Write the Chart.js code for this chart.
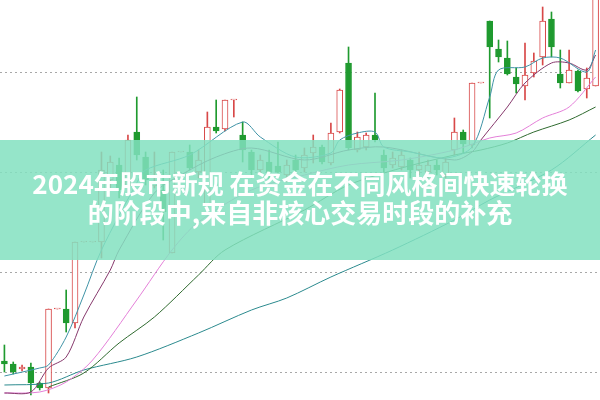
<!DOCTYPE html>
<html>
<head>
<meta charset="utf-8">
<script src="https://cdn.jsdelivr.net/npm/chart.js@4.4.1/dist/chart.umd.min.js"></script>
<style>
  body { margin: 0; background: #fff; }
  #wrap { position: relative; width: 600px; height: 400px; overflow: hidden; }
  #band { position: absolute; left: 0; top: 140px; width: 600px; height: 120px; background: rgba(130, 224, 191, 0.85); }
  #cap { position: absolute; left: 0; top: 168px; width: 600px; text-align: center; color: #fff;
         font: bold 26px/29px "Noto Sans CJK SC", sans-serif; }
</style>
</head>
<body>
<div id="wrap">
  <canvas id="c" width="600" height="400"></canvas>
  <div id="band"></div>
  <div id="cap">2024年股市新规 在资金在不同风格间快速轮换<br>的阶段中,来自非核心交易时段的补充</div>
</div>
<script>
// daily K-line, prices
var open = [10.22,10.16,10.06,10.10,9.78,9.68,11.26,11.26,10.98,12.60,
  12.60,12.60,13.84,14.14,13.72,14.80,14.30,13.72,13.64,12.38,
  14.40,14.40,14.00,13.34,14.90,14.86,15.44,14.74,14.40,14.04,
  14.20,14.12,13.94,14.24,14.08,14.38,14.50,14.18,14.80,16.18,
  14.44,14.50,14.74,14.34,14.14,14.10,14.24,14.04,14.00,14.14,
  13.94,14.44,14.80,14.54,15.78,17.02,16.46,16.28,15.90,15.72,
  15.98,16.30,17.06,15.96,15.78,16.02,15.66,15.72];
var high = [10.54,10.20,10.14,10.18,9.80,11.26,11.26,11.64,12.60,12.60,
  12.60,14.40,14.32,14.28,14.74,15.50,14.40,14.40,14.04,14.40,
  14.40,14.54,14.44,15.20,15.44,15.44,15.44,15.00,14.44,14.34,
  14.44,14.60,14.24,14.34,14.48,14.74,14.54,14.98,15.66,16.50,
  14.80,14.78,15.58,14.44,14.40,14.44,14.28,14.40,14.24,14.24,
  14.28,15.08,14.84,15.78,15.78,17.02,16.64,16.62,16.08,16.58,
  16.38,17.30,17.20,16.44,16.44,16.04,16.08,17.94];
var low = [10.00,9.96,10.02,9.54,9.64,9.58,11.26,10.80,10.88,12.60,
  12.60,12.28,13.64,13.48,13.60,14.24,13.74,13.68,12.64,12.38,
  14.40,14.04,13.88,13.28,14.78,14.82,15.10,14.20,13.88,13.94,
  13.84,13.88,13.80,13.94,14.00,14.18,14.16,14.14,14.78,14.44,
  14.40,14.44,14.60,14.00,14.08,14.04,13.88,13.94,13.88,13.94,
  13.88,14.34,14.38,14.48,15.78,15.08,16.20,15.94,15.58,15.44,
  15.90,16.14,16.30,15.68,15.78,15.60,15.48,15.72];
var close = [10.16,10.00,10.10,9.78,9.68,11.26,11.26,10.98,12.60,12.60,
  12.60,14.04,14.20,13.64,14.64,14.34,13.84,13.82,13.20,14.40,
  14.40,14.08,14.24,14.90,14.82,15.44,15.44,14.44,14.04,14.24,
  14.00,14.00,14.14,14.04,14.34,14.50,14.20,14.78,15.64,14.48,
  14.70,14.74,14.64,14.08,14.28,14.34,14.04,14.14,14.14,14.04,
  14.20,14.80,14.56,15.78,15.78,16.50,16.30,15.96,15.76,15.94,
  16.22,17.02,16.50,15.78,16.04,15.62,15.88,17.74];

// moving averages, [day index, value] where the line could be read
var ma5 = [[0,9.92],[4,10.08],[5,10.14],[7,10.70],[9,11.54],[11,12.44],[15,13.78],[16,14.04],
  [21,14.34],[27,15.00],[29,14.70],[33,14.30],[37,14.38],[38,14.64],[40,14.78],[42,14.80],
  [43,14.50],[46,14.40],[50,14.28],[53,14.50],[55,15.50],[56,16.04],[59,16.10],[61,16.28],
  [63,16.28],[66,16.00],[67,16.44]];
var ma10 = [[0,9.58],[3,9.60],[5,10.08],[7,10.30],[9,11.10],[12,12.04],[13,12.44],[17,13.58],
  [20,13.94],[24,14.30],[28,14.48],[34,14.24],[39,14.44],[43,14.50],[51,14.24],[53,14.40],
  [54,14.64],[57,15.30],[59,15.78],[62,16.18],[64,16.18],[66,16.04],[67,16.34]];
var ma20 = [[0,9.58],[4,9.60],[7,9.80],[10,10.24],[15,11.44],[19,12.44],[22,13.00],[28,13.64],
  [34,13.94],[39,14.14],[45,14.24],[51,14.44],[55,14.68],[58,14.78],[61,15.08],[64,15.30],[67,15.90]];
var ma60 = [[5,9.70],[9,9.98],[13,10.58],[17,11.10],[22,11.94],[25,12.44],[34,13.24],[39,13.74],
  [45,14.08],[51,14.34],[54,14.44],[57,14.58],[60,14.80],[64,15.04],[67,15.30]];
var ma120 = [[0,9.74],[5,9.78],[9,10.04],[15,10.30],[22,10.78],[28,11.24],[32,11.48],[37,11.90],
  [44,12.44],[51,13.04],[55,13.44],[62,14.04],[67,14.74]];

var gridTicks = [10, 12, 14, 16];

var days = open.map(function(v, i) { return String(i + 1); });
var RED = '#d84848', GREEN = '#1f9a2f';

function isUp(i) { return close[i] >= open[i]; }
function lineData(pairs) {
  var arr = days.map(function() { return null; });
  pairs.forEach(function(p) { arr[p[0]] = p[1]; });
  return arr;
}
function maLine(pairs, color) {
  return { type: 'line', data: lineData(pairs), borderColor: color, borderWidth: 1,
    pointRadius: 0, spanGaps: true, tension: 0.3, order: 0 };
}

new Chart(document.getElementById('c'), {
  type: 'bar',
  data: {
    labels: days,
    datasets: [
      maLine(ma5, '#3f93a6'),
      maLine(ma10, '#86386c'),
      maLine(ma20, '#e47fd8'),
      maLine(ma60, '#2f6a2f'),
      maLine(ma120, '#2b8a8e'),
      {
        data: open.map(function(o, i) { return [o, close[i]]; }),
        backgroundColor: days.map(function(d, i) { return isUp(i) ? '#fff' : GREEN; }),
        borderColor: days.map(function(d, i) { return isUp(i) ? RED : GREEN; }),
        borderWidth: 1, borderSkipped: false, barThickness: 6, minBarLength: 1,
        grouped: false, order: 1
      },
      {
        data: low.map(function(l, i) { return [l, high[i]]; }),
        backgroundColor: days.map(function(d, i) { return isUp(i) ? RED : GREEN; }),
        borderWidth: 0, barThickness: 1, grouped: false, order: 2
      }
    ]
  },
  options: {
    responsive: false,
    animation: false,
    devicePixelRatio: 1,
    layout: { padding: 0 },
    plugins: { legend: { display: false }, tooltip: { enabled: false } },
    scales: {
      x: { display: false, offset: true },
      y: {
        min: 9.44, max: 17.44,
        afterFit: function(s) { s.width = 0; },
        afterBuildTicks: function(s) { s.ticks = gridTicks.map(function(v) { return { value: v }; }); },
        ticks: { display: false },
        grid: { color: '#a8a8a8', lineWidth: 1, drawTicks: false },
        border: { display: false, dash: [2, 3] }
      }
    }
  }
});
</script>
</body>
</html>
